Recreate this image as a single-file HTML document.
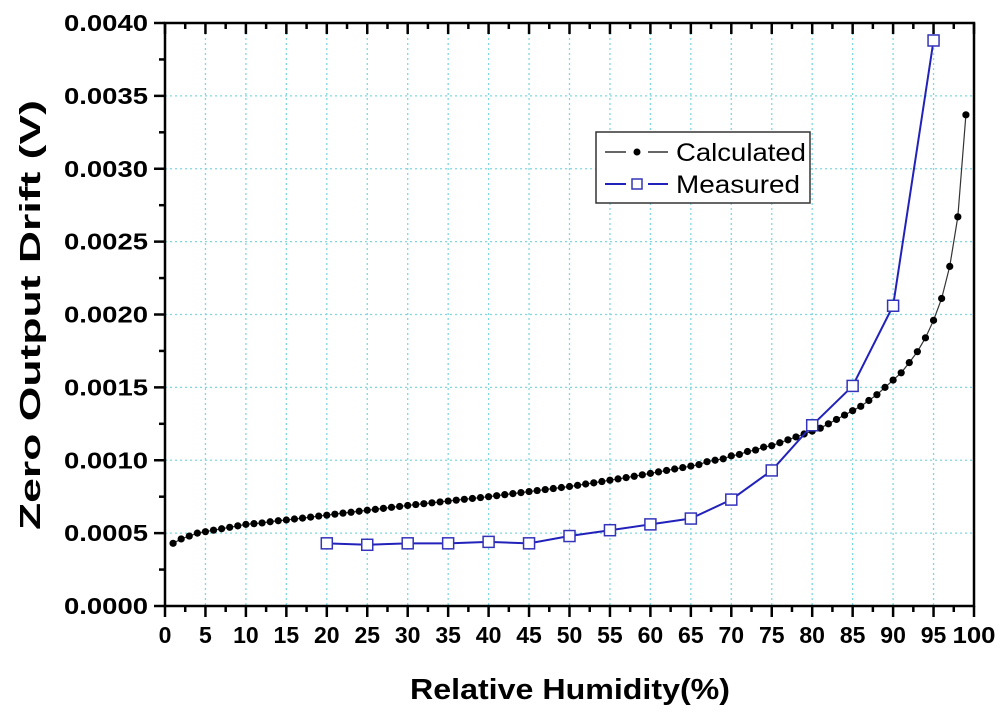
<!DOCTYPE html>
<html><head><meta charset="utf-8"><style>
body{margin:0;background:#fff;}
svg{display:block;font-family:"Liberation Sans",Arial,sans-serif;}
</style></head><body>
<svg id="chart" width="1000" height="712"></svg>
<script>
const calcX=[];for(let i=1;i<=99;i++)calcX.push(i);
const calcY=[0.00043,0.00046,0.00048,0.00050,0.00051,0.00052,0.00053,0.00054,0.00055,
0.00056,0.000565,0.00057,0.000578,0.000585,0.00059,0.000597,0.000603,0.00061,0.000617,
0.000623,0.00063,0.000637,0.000643,0.00065,0.000657,0.000663,0.00067,0.000677,0.000683,
0.00069,0.000696,0.000702,0.000708,0.000714,0.00072,0.000726,0.000732,0.000738,0.000744,
0.00075,0.000757,0.000764,0.000771,0.000778,0.000785,0.000792,0.000799,0.000806,0.000813,
0.00082,0.000828,0.000837,0.000845,0.000854,0.000863,0.000872,0.000881,0.00089,0.0009,
0.00091,0.00092,0.00093,0.00094,0.00095,0.00096,0.00097,0.00099,0.001,0.00101,
0.00103,0.00104,0.00106,0.00107,0.00109,0.0011,0.00112,0.00114,0.00116,0.00118,
0.0012,0.00122,0.00125,0.00128,0.00131,0.00134,0.00137,0.00141,0.00145,0.0015,
0.00155,0.0016,0.00167,0.001745,0.00184,0.00196,0.00211,0.00233,0.00267,0.00337];
const measX=[20,25,30,35,40,45,50,55,60,65,70,75,80,85,90,95];
const measY=[0.00043,0.00042,0.00043,0.00043,0.00044,0.00043,0.00048,0.00052,0.00056,0.0006,0.00073,0.00093,0.00124,0.00151,0.00206,0.00388];
const xTicks=[0,5,10,15,20,25,30,35,40,45,50,55,60,65,70,75,80,85,90,95,100];
const yTicks=[0,0.0005,0.001,0.0015,0.002,0.0025,0.003,0.0035,0.004];
const yLabels=["0.0000","0.0005","0.0010","0.0015","0.0020","0.0025","0.0030","0.0035","0.0040"];

const L=165,R=974,T=23,B=606;
const sx=v=>L+(v/100)*(R-L);
const sy=v=>B-(v/0.004)*(B-T);
const svg=document.getElementById('chart');
const NS='http://www.w3.org/2000/svg';
function mk(tag,attrs,parent){const e=document.createElementNS(NS,tag);for(const k in attrs)e.setAttribute(k,attrs[k]);(parent||svg).appendChild(e);return e;}

const grid=mk('g',{});


xTicks.forEach(t=>{if(t>0&&t<100)mk('line',{x1:sx(t),x2:sx(t),y1:T,y2:B,stroke:'#7fd8e0','stroke-width':1.3,'stroke-dasharray':'2,3'},grid);});
yTicks.forEach(t=>{if(t>0&&t<0.004)mk('line',{x1:L,x2:R,y1:sy(t),y2:sy(t),stroke:'#7fd8e0','stroke-width':1.3,'stroke-dasharray':'2,3'},grid);});

const ax=mk('g',{stroke:'#000','stroke-width':2.5});


mk('rect',{x:L,y:T,width:R-L,height:B-T,fill:'none'},ax);
xTicks.forEach(t=>{mk('line',{x1:sx(t),x2:sx(t),y1:B,y2:B+11},ax);mk('line',{x1:sx(t),x2:sx(t),y1:T,y2:T+11},ax);
 if(t<100){mk('line',{x1:sx(t+2.5),x2:sx(t+2.5),y1:B,y2:B+6},ax);mk('line',{x1:sx(t+2.5),x2:sx(t+2.5),y1:T,y2:T+6},ax);}});
yTicks.forEach(t=>{mk('line',{x1:L-11,x2:L,y1:sy(t),y2:sy(t)},ax);if(t<0.004)mk('line',{x1:L-6,x2:L,y1:sy(t+0.00025),y2:sy(t+0.00025)},ax);});

xTicks.forEach(t=>{const e=mk('text',{x:sx(t),y:643,'text-anchor':'middle','font-size':23,'font-weight':'bold'});e.textContent=t;
if(t===100){e.setAttribute('textLength',43);e.setAttribute('lengthAdjust','spacingAndGlyphs');}

});
yTicks.forEach((t,i)=>{const e=mk('text',{x:148,y:sy(t)+8,'text-anchor':'end','font-size':23,'font-weight':'bold',textLength:84,lengthAdjust:'spacingAndGlyphs'});e.textContent=yLabels[i];

});

const xt=mk('text',{x:570,y:699,'text-anchor':'middle','font-size':29,'font-weight':'bold',textLength:320,lengthAdjust:'spacingAndGlyphs'});xt.textContent='Relative Humidity(%)';


const yt=mk('text',{x:0,y:0,'text-anchor':'middle','font-size':29,'font-weight':'bold',textLength:430,lengthAdjust:'spacingAndGlyphs',transform:'translate(40,315) rotate(-90)'});yt.textContent='Zero Output Drift (V)';



const cg=mk('g',{});


mk('polyline',{points:calcX.map((x,i)=>sx(x)+','+sy(calcY[i])).join(' '),fill:'none',stroke:'#333','stroke-width':1.2},cg);
calcX.forEach((x,i)=>{const c=mk('circle',{cx:sx(x),cy:sy(calcY[i]),r:3.6,fill:'#000'},cg);

});

const mg=mk('g',{});


mk('polyline',{points:measX.map((x,i)=>sx(x)+','+sy(measY[i])).join(' '),fill:'none',stroke:'#2222bb','stroke-width':2},mg);
measX.forEach((x,i)=>{const r=mk('rect',{x:sx(x)-5.5,y:sy(measY[i])-5.5,width:11,height:11,fill:'#fff',stroke:'#3333bb','stroke-width':1.5},mg);

});

const lg=mk('g',{});


mk('rect',{x:596,y:132,width:214,height:71,fill:'#fff',stroke:'#333','stroke-width':1.5},lg);
mk('line',{x1:605,x2:626,y1:152,y2:152,stroke:'#333','stroke-width':1.5},lg);
mk('line',{x1:648,x2:668,y1:152,y2:152,stroke:'#333','stroke-width':1.5},lg);
mk('circle',{cx:637,cy:152,r:3.5,fill:'#000'},lg);
const t1=mk('text',{x:676,y:161,'font-size':25,textLength:130,lengthAdjust:'spacingAndGlyphs'},lg);t1.textContent='Calculated';


mk('line',{x1:605,x2:626,y1:184,y2:184,stroke:'#2222bb','stroke-width':2},lg);
mk('line',{x1:648,x2:668,y1:184,y2:184,stroke:'#2222bb','stroke-width':2},lg);
mk('rect',{x:632,y:179,width:10,height:10,fill:'#fff',stroke:'#3333bb','stroke-width':1.5},lg);
const t2=mk('text',{x:676,y:193,'font-size':25,textLength:124,lengthAdjust:'spacingAndGlyphs'},lg);t2.textContent='Measured';


</script>
</body></html>
